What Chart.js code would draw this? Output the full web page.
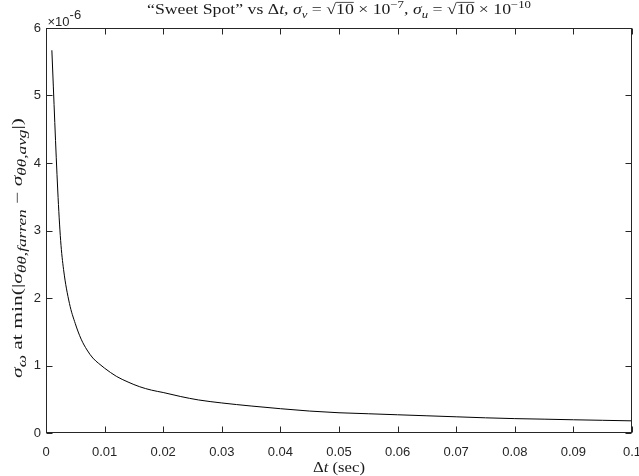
<!DOCTYPE html>
<html>
<head>
<meta charset="utf-8">
<script src="https://cdn.jsdelivr.net/npm/chart.js"></script>
<style>
  html, body { margin: 0; padding: 0; background: #fff; }
</style>
</head>
<body>
<canvas id="chart" width="639" height="476"></canvas>
<script>
// Δt samples (sec) and sigma_omega values (in units of 1e-6)
const dtValues = [0.001, 0.002, 0.0025, 0.003, 0.004, 0.005, 0.006, 0.007, 0.008, 0.009,
    0.010, 0.012, 0.014, 0.016, 0.018, 0.020, 0.023, 0.026, 0.030, 0.035,
    0.040, 0.045, 0.050, 0.055, 0.060, 0.065, 0.070, 0.075, 0.080, 0.085,
    0.090, 0.095, 0.100];
const sigmaValues = [5.67, 3.60, 2.85, 2.42, 1.92, 1.62, 1.39, 1.23, 1.11, 1.03,
    0.96, 0.84, 0.755, 0.685, 0.635, 0.60, 0.54, 0.49, 0.445, 0.40,
    0.36, 0.325, 0.30, 0.285, 0.27, 0.255, 0.24, 0.225, 0.213, 0.205,
    0.196, 0.188, 0.18];

const xTickLabels = ['0', '0.01', '0.02', '0.03', '0.04', '0.05', '0.06', '0.07', '0.08', '0.09', '0.1'];
const yTickLabels = ['0', '1', '2', '3', '4', '5', '6'];
const yExponent = '-6';

const axisColor = '#262626';
const serif = '"Liberation Serif", "DejaVu Serif", serif';
const sans = '"Liberation Sans", Arial, sans-serif';

// draws text parts (italic / sub / sup / overline) centred on x, stretched to width w
function drawRich(ctx, parts, x, y, size, w, small) {
    const fontFor = p => (p.it ? 'italic ' : '') + (p.sub || p.sup ? size * small : size) + 'px ' + serif;
    let total = 0;
    parts.forEach(p => {
        ctx.font = fontFor(p);
        p.w = ctx.measureText(p.t).width;
        total += p.w;
    });
    ctx.save();
    ctx.translate(x, y);
    ctx.scale(w / total, 1);
    let cx = -total / 2;
    ctx.textAlign = 'left';
    ctx.textBaseline = 'alphabetic';
    parts.forEach(p => {
        ctx.font = fontFor(p);
        let dy = 0;
        if (p.sub) dy = size * 0.25;
        if (p.sup) dy = -size * 0.42;
        ctx.fillText(p.t, cx, dy);
        if (p.over) {
            ctx.beginPath();
            ctx.lineWidth = 0.7;
            ctx.moveTo(cx, -size * 0.8);
            ctx.lineTo(cx + p.w, -size * 0.8);
            ctx.stroke();
        }
        cx += p.w;
    });
    ctx.restore();
}

const titleParts = [
    { t: '\u201CSweet Spot\u201D vs \u0394' }, { t: 't', it: true }, { t: ', ' },
    { t: '\u03C3', it: true }, { t: 'v', it: true, sub: true }, { t: ' = \u221A' }, { t: '10', over: true },
    { t: ' \u00D7 10' }, { t: '\u22127', sup: true }, { t: ', ' },
    { t: '\u03C3', it: true }, { t: 'u', it: true, sub: true }, { t: ' = \u221A' }, { t: '10', over: true },
    { t: ' \u00D7 10' }, { t: '\u221210', sup: true }
];
const yLabelParts = [
    { t: '\u03C3', it: true }, { t: '\u03C9', it: true, sub: true }, { t: ' at min(|' },
    { t: '\u03C3', it: true }, { t: '\u03B8\u03B8,farren', it: true, sub: true }, { t: ' \u2212 ' },
    { t: '\u03C3', it: true }, { t: '\u03B8\u03B8,avg', it: true, sub: true }, { t: '|)' }
];
const xLabelParts = [{ t: '\u0394' }, { t: 't', it: true }, { t: ' (sec)' }];

const decorPlugin = {
    id: 'decor',
    afterDraw(chart) {
        const ctx = chart.ctx;
        const a = chart.chartArea;
        const xs = chart.scales.x, ys = chart.scales.y;
        const L = Math.round(a.left) + 0.5, R = Math.round(a.right) - 0.5;
        const T = Math.round(a.top) + 0.5, B = Math.round(a.bottom) - 0.5;
        ctx.save();
        ctx.strokeStyle = axisColor;
        ctx.fillStyle = axisColor;
        ctx.lineWidth = 1;
        ctx.strokeRect(L, T, R - L, B - T);
        const tl = 6;
        ctx.beginPath();
        xs.ticks.forEach(t => {
            const px = Math.round(xs.getPixelForValue(t.value)) + 0.5;
            ctx.moveTo(px, B); ctx.lineTo(px, B - tl);
            ctx.moveTo(px, T); ctx.lineTo(px, T + tl);
        });
        ys.ticks.forEach(t => {
            const py = Math.round(ys.getPixelForValue(t.value)) + 0.5;
            ctx.moveTo(L, py); ctx.lineTo(L + tl, py);
            ctx.moveTo(R, py); ctx.lineTo(R - tl, py);
        });
        ctx.stroke();

        // exponent label above the y axis
        ctx.font = '13px ' + sans;
        ctx.textAlign = 'left';
        ctx.textBaseline = 'alphabetic';
        ctx.fillText('\u00D710', L + 1, 26);
        const w = ctx.measureText('\u00D710').width;
        ctx.fillText(yExponent, L + 1 + w, 19);

        ctx.fillStyle = '#1a1a1a';
        ctx.strokeStyle = '#1a1a1a';
        const cx = (a.left + a.right) / 2;
        drawRich(ctx, titleParts, cx, 14, 14.5, 384, 0.72);
        drawRich(ctx, xLabelParts, cx, 472, 15, 52, 0.72);
        ctx.translate(22, 248);
        ctx.rotate(-Math.PI / 2);
        drawRich(ctx, yLabelParts, 0, 0, 15, 260, 0.8);
        ctx.restore();
    }
};

new Chart(document.getElementById('chart'), {
    type: 'line',
    data: {
        datasets: [{
            data: dtValues.map((x, i) => ({ x: x, y: sigmaValues[i] })),
            borderColor: '#000',
            borderWidth: 1,
            pointRadius: 0,
            cubicInterpolationMode: 'monotone',
            fill: false
        }]
    },
    options: {
        responsive: false,
        animation: false,
        layout: { padding: { top: 28, right: 7, left: 0, bottom: 0 } },
        plugins: { legend: { display: false }, title: { display: false }, tooltip: { enabled: false } },
        scales: {
            x: {
                type: 'linear',
                min: 0, max: 0.1,
                grid: { display: false, drawTicks: false },
                border: { display: false },
                ticks: {
                    stepSize: 0.01,
                    padding: 12,
                    maxRotation: 0,
                    autoSkip: false,
                    color: axisColor,
                    font: { family: sans, size: 13 },
                    callback: (v, i) => xTickLabels[i]
                },
                afterFit: s => { s.height = 43; s.paddingLeft = 0; s.paddingRight = 0; }
            },
            y: {
                type: 'linear',
                min: 0, max: 6,
                grid: { display: false, drawTicks: false },
                border: { display: false },
                ticks: {
                    stepSize: 1,
                    padding: 5,
                    color: axisColor,
                    font: { family: sans, size: 13 },
                    callback: (v, i) => yTickLabels[i]
                },
                afterFit: s => { s.width = 46; s.paddingTop = 0; s.paddingBottom = 0; }
            }
        }
    },
    plugins: [decorPlugin]
});
</script>
</body>
</html>
